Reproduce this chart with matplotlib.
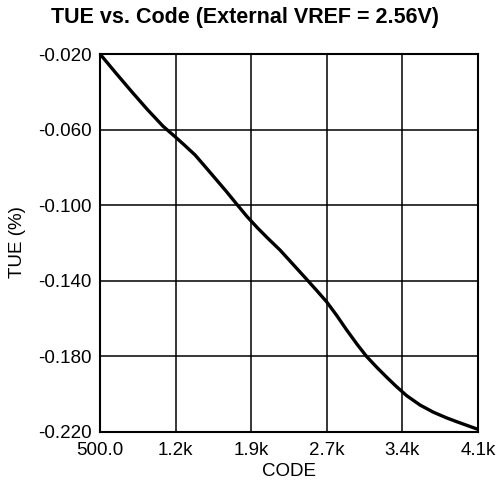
import matplotlib
matplotlib.use("Agg")
import matplotlib.pyplot as plt

codes = [500, 650, 800, 950, 1100, 1220, 1300, 1405, 1500, 1600, 1700, 1800, 1900, 2000,
         2100, 2214, 2350, 2468, 2560, 2658, 2750, 2849, 2950, 3040, 3140, 3230, 3320,
         3421, 3550, 3674, 3800, 3900, 4000, 4100]
tue = [-0.0200, -0.0300, -0.0398, -0.0493, -0.0582, -0.0640, -0.0680, -0.0734, -0.0795,
       -0.0860, -0.0925, -0.0993, -0.1060, -0.1120, -0.1176, -0.1237, -0.1320, -0.1392,
       -0.1449, -0.1511, -0.1580, -0.1660, -0.1737, -0.1801, -0.1860, -0.1910, -0.1958,
       -0.2008, -0.2058, -0.2095, -0.2125, -0.2146, -0.2166, -0.2186]

x_ticks = [500, 1220, 1940, 2660, 3380, 4100]
x_labels = ["500.0", "1.2k", "1.9k", "2.7k", "3.4k", "4.1k"]
y_ticks = [-0.220, -0.180, -0.140, -0.100, -0.060, -0.020]
y_labels = ["-0.220", "-0.180", "-0.140", "-0.100", "-0.060", "-0.020"]

plt.rcParams['font.family'] = ['Liberation Sans', 'DejaVu Sans']

fig = plt.figure(figsize=(4.96, 4.87), dpi=100)
ax = fig.add_axes([100/496, 1-432/487, 378/496, 378/487])

ax.plot(codes, tue, color='black', linewidth=2.4, solid_capstyle='butt',
        solid_joinstyle='round', clip_on=False, zorder=3)

ax.set_xlim(500, 4100)
ax.set_ylim(-0.220, -0.020)
ax.set_xticks(x_ticks)
ax.set_xticklabels(x_labels, fontsize=13.5)
ax.set_yticks(y_ticks)
ax.set_yticklabels(y_labels, fontsize=13.5)
ax.tick_params(axis='x', length=0, pad=7)
ax.tick_params(axis='y', length=0, pad=6)
ax.grid(True, color='black', linewidth=1.1)
for s in ax.spines.values():
    s.set_linewidth(1.5)
    s.set_color('black')

ax.set_xlabel("CODE", fontsize=13.5, labelpad=3)
fig.text(18/496, 1-242.5/487, "TUE (%)", rotation=90, ha='center', va='center', fontsize=13.5)
fig.text(245/496, 1-17/487, "TUE vs. Code (External VREF = 2.56V)", ha='center', va='center',
         fontsize=15.5, fontweight='bold')

fig.savefig("out.png", dpi=100)
